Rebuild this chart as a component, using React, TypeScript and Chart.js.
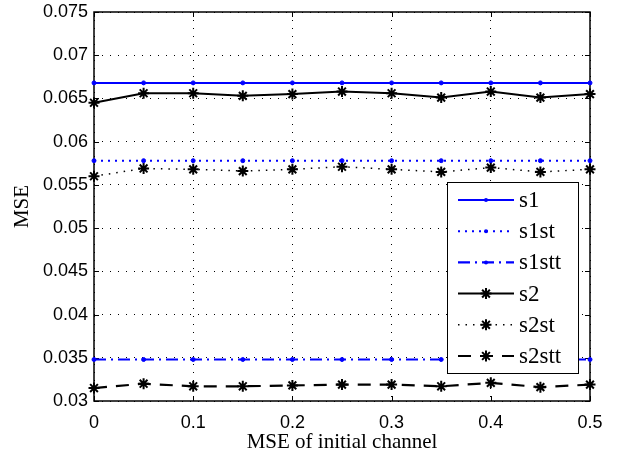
import React, { useEffect, useRef } from 'react';
import { Chart, registerables } from 'chart.js';

Chart.register(...registerables);

const xValues = [0, 0.05, 0.1, 0.15, 0.2, 0.25, 0.3, 0.35, 0.4, 0.45, 0.5];
const s1 = [0.0668, 0.0668, 0.0668, 0.0668, 0.0668, 0.0668, 0.0668, 0.0668, 0.0668, 0.0668, 0.0668];
const s1st = [0.0578, 0.0578, 0.0578, 0.0578, 0.0578, 0.0578, 0.0578, 0.0578, 0.0578, 0.0578, 0.0578];
const s1stt = [0.0348, 0.0348, 0.0348, 0.0348, 0.0348, 0.0348, 0.0348, 0.0348, 0.0348, 0.0348, 0.0348];
const s2 = [0.0645, 0.0656, 0.0656, 0.0653, 0.0655, 0.0658, 0.0656, 0.0651, 0.0658, 0.0651, 0.0655];
const s2st = [0.0560, 0.0569, 0.0568, 0.0566, 0.0568, 0.0571, 0.0568, 0.0565, 0.0570, 0.0565, 0.0568];
const s2stt = [0.0315, 0.0320, 0.0317, 0.0317, 0.0318, 0.0319, 0.0319, 0.0317, 0.0321, 0.0316, 0.0319];
const seriesNames = ['s1', 's1st', 's1stt', 's2', 's2st', 's2stt'];
const xTitle = 'MSE of initial channel';
const yTitle = 'MSE';

const BLUE = '#0000ff';
const BLACK = '#000000';
const SERIF = '"Liberation Serif", "Times New Roman", serif';
const SANS = '"Liberation Sans", Arial, sans-serif';

const pts = (ys: number[]) => xValues.map((x, i) => ({ x, y: ys[i] }));

function drawMarker(ctx: CanvasRenderingContext2D, style: string, r: number, x: number, y: number) {
  ctx.beginPath();
  if (style === 'star') {
    for (let k = 0; k < 4; k++) {
      const ang = (k * Math.PI) / 4;
      const dx = Math.cos(ang) * r, dy = Math.sin(ang) * r;
      ctx.moveTo(x - dx, y - dy);
      ctx.lineTo(x + dx, y + dy);
    }
    ctx.stroke();
  } else {
    ctx.arc(x, y, r, 0, Math.PI * 2);
    ctx.fill();
  }
}

const frameAndLegend = {
  id: 'frameAndLegend',
  beforeDatasetsDraw(chart: any) {
    const { ctx, chartArea: a, scales } = chart;
    ctx.save();
    ctx.strokeStyle = '#000';
    ctx.lineWidth = 1;
    const tl = 5;
    scales.y.ticks.forEach((t: any) => {
      const y = Math.round(scales.y.getPixelForValue(t.value)) + 0.5;
      ctx.beginPath();
      ctx.moveTo(a.left, y); ctx.lineTo(a.left + tl, y);
      ctx.moveTo(a.right, y); ctx.lineTo(a.right - tl, y);
      ctx.stroke();
    });
    scales.x.ticks.forEach((t: any) => {
      const x = Math.round(scales.x.getPixelForValue(t.value)) + 0.5;
      ctx.beginPath();
      ctx.moveTo(x, a.bottom); ctx.lineTo(x, a.bottom - tl);
      ctx.moveTo(x, a.top); ctx.lineTo(x, a.top + tl);
      ctx.stroke();
    });
    ctx.lineWidth = 1.5;
    ctx.strokeRect(a.left, a.top, a.right - a.left, a.bottom - a.top);
    ctx.restore();
  },
  afterDraw(chart: any) {
    const { ctx } = chart;
    const bx = 447, by = 182, bw = 131, bh = 191;
    ctx.save();
    ctx.fillStyle = '#fff';
    ctx.fillRect(bx, by, bw, bh);
    ctx.strokeStyle = '#000';
    ctx.lineWidth = 1;
    ctx.strokeRect(bx + 0.5, by + 0.5, bw, bh);
    chart.data.datasets.forEach((ds: any, i: number) => {
      const y = 200 + i * 31.2;
      ctx.save();
      ctx.strokeStyle = ds.borderColor;
      ctx.lineWidth = ds.borderWidth;
      ctx.setLineDash(ds.borderDash || []);
      ctx.beginPath();
      ctx.moveTo(458, y);
      ctx.lineTo(514, y);
      ctx.stroke();
      ctx.setLineDash([]);
      ctx.lineWidth = ds.pointBorderWidth;
      ctx.fillStyle = ds.pointBackgroundColor;
      ctx.strokeStyle = ds.pointBorderColor;
      drawMarker(ctx, ds.pointStyle, ds.pointRadius, 486, y);
      ctx.restore();
      ctx.fillStyle = '#000';
      ctx.font = '23px ' + SERIF;
      ctx.textBaseline = 'middle';
      ctx.textAlign = 'left';
      ctx.fillText(ds.label, 519, y + 1);
    });
    ctx.restore();
  },
};

export default function App() {
  const ref = useRef<HTMLCanvasElement | null>(null);
  useEffect(() => {
    if (!ref.current) return;
    const mk = (label: string, ys: number[], color: string, width: number, dash: number[], style: string, radius: number, pbw: number) => ({
      label,
      data: pts(ys),
      borderColor: color,
      backgroundColor: color,
      borderWidth: width,
      borderDash: dash,
      pointStyle: style,
      pointRadius: radius,
      pointBorderWidth: pbw,
      pointBackgroundColor: color,
      pointBorderColor: color,
      fill: false,
      tension: 0,
      clip: false,
    });
    const chart = new Chart(ref.current, {
      type: 'line',
      data: {
        datasets: [
          mk(seriesNames[0], s1, BLUE, 2, [], 'circle', 2, 1),
          mk(seriesNames[1], s1st, BLUE, 2, [2, 5], 'circle', 2, 1),
          mk(seriesNames[2], s1stt, BLUE, 2.2, [12, 5, 2, 5], 'circle', 2, 1),
          mk(seriesNames[3], s2, BLACK, 2, [], 'star', 5.5, 2),
          mk(seriesNames[4], s2st, BLACK, 1.5, [1.5, 6], 'star', 5.5, 2),
          mk(seriesNames[5], s2stt, BLACK, 2.2, [13, 9], 'star', 5.5, 2),
        ] as any,
      },
      options: {
        animation: false,
        responsive: false,
        layout: { padding: { top: 12, right: 29, left: 0, bottom: 0 } },
        plugins: { legend: { display: false }, tooltip: { enabled: false } },
        scales: {
          x: {
            type: 'linear',
            min: 0,
            max: 0.5,
            afterFit: (s: any) => { s.height = 54; s.paddingLeft = 0; s.paddingRight = 0; },
            ticks: {
              stepSize: 0.1,
              color: '#000',
              padding: 11,
              maxRotation: 0,
              font: { family: SANS, size: 18 },
              callback: (v: any) => String(Number(Number(v).toFixed(2))),
            },
            grid: { color: '#000', lineWidth: 1, drawTicks: false },
            border: { display: false, dash: [1, 7] },
            title: {
              display: true,
              text: xTitle,
              color: '#000',
              font: { family: SERIF, size: 21 },
              padding: { top: 0, bottom: 0 },
            },
          },
          y: {
            type: 'linear',
            min: 0.03,
            max: 0.075,
            afterFit: (s: any) => { s.width = 94; s.paddingTop = 0; s.paddingBottom = 0; },
            ticks: {
              stepSize: 0.005,
              color: '#000',
              padding: 6,
              font: { family: SANS, size: 18 },
              callback: (v: any) => String(Number(Number(v).toFixed(3))),
            },
            grid: { color: '#000', lineWidth: 1, drawTicks: false },
            border: { display: false, dash: [1, 7] },
            title: {
              display: true,
              text: yTitle,
              color: '#000',
              font: { family: SERIF, size: 21 },
              padding: { top: 10, bottom: 0 },
            },
          },
        },
      },
      plugins: [frameAndLegend],
    });
    return () => chart.destroy();
  }, []);
  return (
    <div style={{ position: 'absolute', left: 0, top: 0, width: 619, height: 455, background: '#fff' }}>
      <canvas ref={ref} width={619} height={455} style={{ width: 619, height: 455, display: 'block' }} />
    </div>
  );
}
